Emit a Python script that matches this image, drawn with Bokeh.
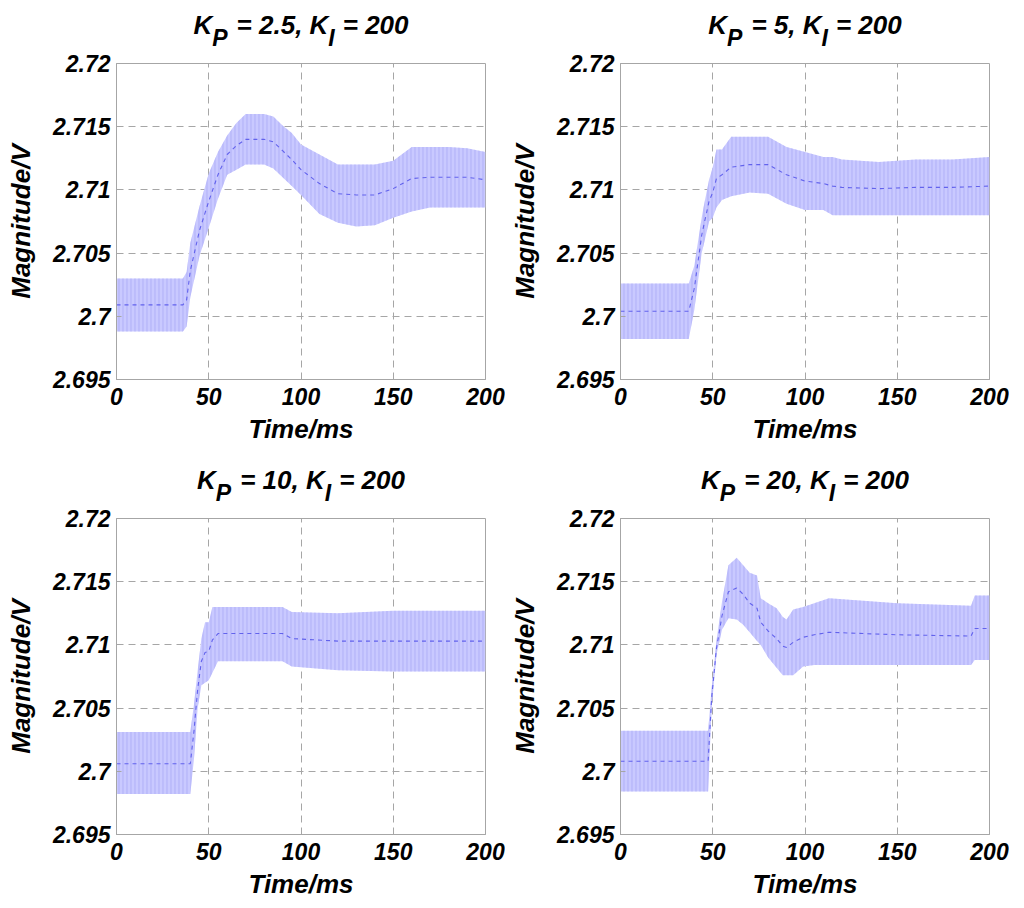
from bokeh.plotting import figure
from bokeh.layouts import column, row
from bokeh.models import FixedTicker, Range1d
from bokeh.core.properties import value
from bokeh.embed import file_html
from bokeh.resources import INLINE

# ---------------- data ----------------
kp_values = ["2.5", "5", "10", "20"]
ki_value = "200"

x_ticks = [0, 50, 100, 150, 200]
y_ticks = [2.695, 2.7, 2.705, 2.71, 2.715, 2.72]
y_tick_labels = ["2.695", "2.7", "2.705", "2.71", "2.715", "2.72"]

# Kp = 2.5 : envelope of the noisy response (upper / lower) and its middle trace
t1 = [0, 36, 38, 40, 45, 50, 55, 60, 65, 70, 80, 85, 90, 95, 100, 110, 120, 130, 140, 150, 160, 170, 180, 190, 200]
up1 = [2.7030, 2.7030, 2.7035, 2.7058, 2.7087, 2.7113, 2.7130, 2.7143, 2.7153, 2.7160, 2.7160, 2.7158, 2.7151,
       2.7145, 2.7136, 2.7128, 2.7120, 2.7120, 2.7120, 2.7123, 2.7134, 2.7134, 2.7134, 2.7133, 2.7130]
lo1 = [2.6988, 2.6988, 2.6992, 2.7015, 2.7048, 2.7070, 2.7093, 2.7112, 2.7116, 2.7120, 2.7120, 2.7117, 2.7110,
       2.7103, 2.7096, 2.7081, 2.7074, 2.7071, 2.7072, 2.7078, 2.7083, 2.7086, 2.7086, 2.7086, 2.7086]
md1 = [2.7009, 2.7009, 2.7013, 2.7036, 2.7068, 2.7091, 2.7112, 2.7128, 2.7135, 2.7140, 2.7140, 2.7138, 2.7131,
       2.7124, 2.7116, 2.7105, 2.7097, 2.7096, 2.7096, 2.7101, 2.7109, 2.7110, 2.7110, 2.7110, 2.7108]

# Kp = 5
t2 = [0, 37, 40, 44, 45, 48, 50, 52, 55, 60, 70, 80, 90, 100, 110, 115, 120, 140, 160, 180, 200]
up2 = [2.7026, 2.7026, 2.7040, 2.7078, 2.7086, 2.7108, 2.7118, 2.7132, 2.7132, 2.7142, 2.7142, 2.7142, 2.7134,
       2.7130, 2.7126, 2.7126, 2.7124, 2.7122, 2.7124, 2.7124, 2.7126]
lo2 = [2.6982, 2.6982, 2.7005, 2.7050, 2.7056, 2.7075, 2.7078, 2.7086, 2.7092, 2.7095, 2.7098, 2.7097, 2.7089,
       2.7084, 2.7084, 2.7080, 2.7080, 2.7080, 2.7080, 2.7080, 2.7080]
md2 = [2.7004, 2.7004, 2.7022, 2.7064, 2.7071, 2.7091, 2.7098, 2.7109, 2.7112, 2.7118, 2.7120, 2.7120, 2.7112,
       2.7107, 2.7105, 2.7103, 2.7102, 2.7101, 2.7102, 2.7102, 2.7103]

# Kp = 10
t3 = [0, 40, 42, 44, 46, 48, 50, 52, 55, 90, 95, 120, 150, 200]
up3 = [2.7031, 2.7031, 2.7053, 2.7080, 2.7105, 2.7118, 2.7118, 2.7130, 2.7130, 2.7130, 2.7126, 2.7125, 2.7127, 2.7127]
lo3 = [2.6982, 2.6982, 2.7010, 2.7050, 2.7068, 2.7070, 2.7072, 2.7078, 2.7087, 2.7087, 2.7083, 2.7080, 2.7079, 2.7079]
md3 = [2.7006, 2.7006, 2.7032, 2.7065, 2.7087, 2.7094, 2.7095, 2.7104, 2.7109, 2.7109, 2.7105, 2.7103, 2.7103, 2.7103]

# Kp = 20
t4 = [0, 47.5, 49.4, 52, 55, 58.5, 63, 66.5, 70, 74, 76, 80, 84.6, 88, 90, 93.6, 99, 105, 113, 150, 190, 192, 200]
up4 = [2.7032, 2.7032, 2.7066, 2.7103, 2.7134, 2.7163, 2.7169, 2.7163, 2.7157, 2.7155, 2.7137, 2.7133, 2.7129,
       2.7122, 2.7120, 2.7128, 2.7130, 2.7133, 2.7137, 2.7133, 2.7131, 2.7139, 2.7139]
lo4 = [2.6984, 2.6984, 2.7050, 2.7092, 2.7112, 2.7121, 2.7120, 2.7116, 2.7110, 2.7103, 2.7100, 2.7090, 2.7082,
       2.7076, 2.7076, 2.7076, 2.7083, 2.7084, 2.7084, 2.7084, 2.7084, 2.7088, 2.7088]
md4 = [2.7008, 2.7008, 2.7058, 2.7097, 2.7123, 2.7142, 2.7145, 2.7140, 2.7133, 2.7129, 2.7118, 2.7111, 2.7105,
       2.7099, 2.7098, 2.7102, 2.7106, 2.7108, 2.7110, 2.7108, 2.7107, 2.7113, 2.7113]

series = [(t1, up1, lo1, md1), (t2, up2, lo2, md2), (t3, up3, lo3, md3), (t4, up4, lo4, md4)]

# ---------------- styling ----------------
FONT = "Liberation Sans"
STYLE = "bold italic"
GRAY = "#A6A6A6"
BAND = "#C9C9FF"
HATCH = "#A9A9F5"
TRACE = "#4A4AE8"

FRAME_W = 369
FRAME_H = 316
RIGHT = [20, 20]
LEFT = [116, 115]
PANEL_TOP = 14
TITLE_H = [49, 41]
BOTTOM = [84, 60]

# approximate advance widths (Arial bold, per 1000 em) for title layout
CW = {"K": 722, "P": 667, "I": 278, " ": 278, "=": 584, ".": 278, ",": 278}
for d in "0123456789":
    CW[d] = 556


def text_width(s, size):
    return sum(CW.get(c, 556) for c in s) * size / 1000.0


def make_title(idx, col, rw):
    h = TITLE_H[rw]
    p = figure(output_backend="svg", toolbar_location=None,
               frame_width=FRAME_W, frame_height=h,
               min_border_left=LEFT[col], min_border_right=RIGHT[col],
               min_border_top=0, min_border_bottom=0,
               x_range=Range1d(0, 200), y_range=Range1d(0, h),
               background_fill_color="white", border_fill_color="white")
    p.axis.visible = False
    p.grid.visible = False
    p.outline_line_color = None
    main, sub = 26, 23
    base_main = 25
    base_sub = 12
    # (text, font size, baseline, gap after)
    pieces = [("K", main, base_main, 0.0),
              ("P", sub, base_sub, 9.0),
              ("= " + kp_values[idx] + ", K", main, base_main, 0.0),
              ("I", sub, base_sub, 8.0),
              ("= " + ki_value, main, base_main, 0.0)]
    total = sum(text_width(s, sz) + g for s, sz, _, g in pieces)
    xo = -total / 2.0
    for s, sz, base, gap in pieces:
        p.text(x=[100], y=[base], text=[s], x_offset=xo,
               text_font=value(FONT), text_font_style=STYLE,
               text_font_size=f"{sz}px", text_color="black",
               text_align="left", text_baseline="alphabetic")
        xo += text_width(s, sz) + gap
    return p


def make_panel(idx, col, rw):
    t, up, lo, md = series[idx]
    p = figure(output_backend="svg", toolbar_location=None,
               frame_width=FRAME_W, frame_height=FRAME_H,
               min_border_left=LEFT[col], min_border_right=RIGHT[col],
               min_border_top=PANEL_TOP, min_border_bottom=BOTTOM[rw],
               x_range=Range1d(0, 200), y_range=Range1d(2.695, 2.72),
               background_fill_color="white", border_fill_color="white")
    p.outline_line_color = GRAY
    p.outline_line_width = 1

    p.varea(x=t, y1=lo, y2=up, fill_color=BAND, fill_alpha=1.0,
            hatch_pattern="|", hatch_color=HATCH, hatch_scale=4, hatch_weight=1, hatch_alpha=0.8)
    p.line(x=t, y=md, line_color=TRACE, line_width=1.1, line_dash="4 4", line_alpha=0.8)

    p.xaxis.ticker = FixedTicker(ticks=x_ticks)
    p.yaxis.ticker = FixedTicker(ticks=y_ticks)
    p.yaxis.major_label_overrides = {v: s for v, s in zip(y_ticks, y_tick_labels)}
    p.xaxis.major_label_overrides = {v: str(v) for v in x_ticks}

    for ax in (p.xaxis[0], p.yaxis[0]):
        ax.axis_line_color = GRAY
        ax.major_tick_line_color = GRAY
        ax.major_tick_in = 5
        ax.major_tick_out = 0
        ax.minor_tick_line_color = None
        ax.major_label_text_font = FONT
        ax.major_label_text_font_style = STYLE
        ax.major_label_text_font_size = "23px"
        ax.major_label_text_color = "black"
        ax.axis_label_text_font = FONT
        ax.axis_label_text_font_style = STYLE
        ax.axis_label_text_font_size = "26px"
        ax.axis_label_text_color = "black"
    p.xaxis.axis_label = "Time/ms"
    p.yaxis.axis_label = "Magnitude/V"
    p.xaxis.major_label_standoff = 8
    p.yaxis.major_label_standoff = 6
    p.xaxis.axis_label_standoff = 6
    p.yaxis.axis_label_standoff = 14

    for g in (p.xgrid[0], p.ygrid[0]):
        g.grid_line_color = GRAY
        g.grid_line_dash = "7 5"
        g.grid_line_width = 1
    return p


cells = []
for idx in range(4):
    rw, col = divmod(idx, 2)
    cells.append(column(make_title(idx, col, rw), make_panel(idx, col, rw), spacing=0))

layout = column(row(cells[0], cells[1], spacing=0), row(cells[2], cells[3], spacing=0), spacing=0)

open("out.html", "w").write(file_html(layout, INLINE))
